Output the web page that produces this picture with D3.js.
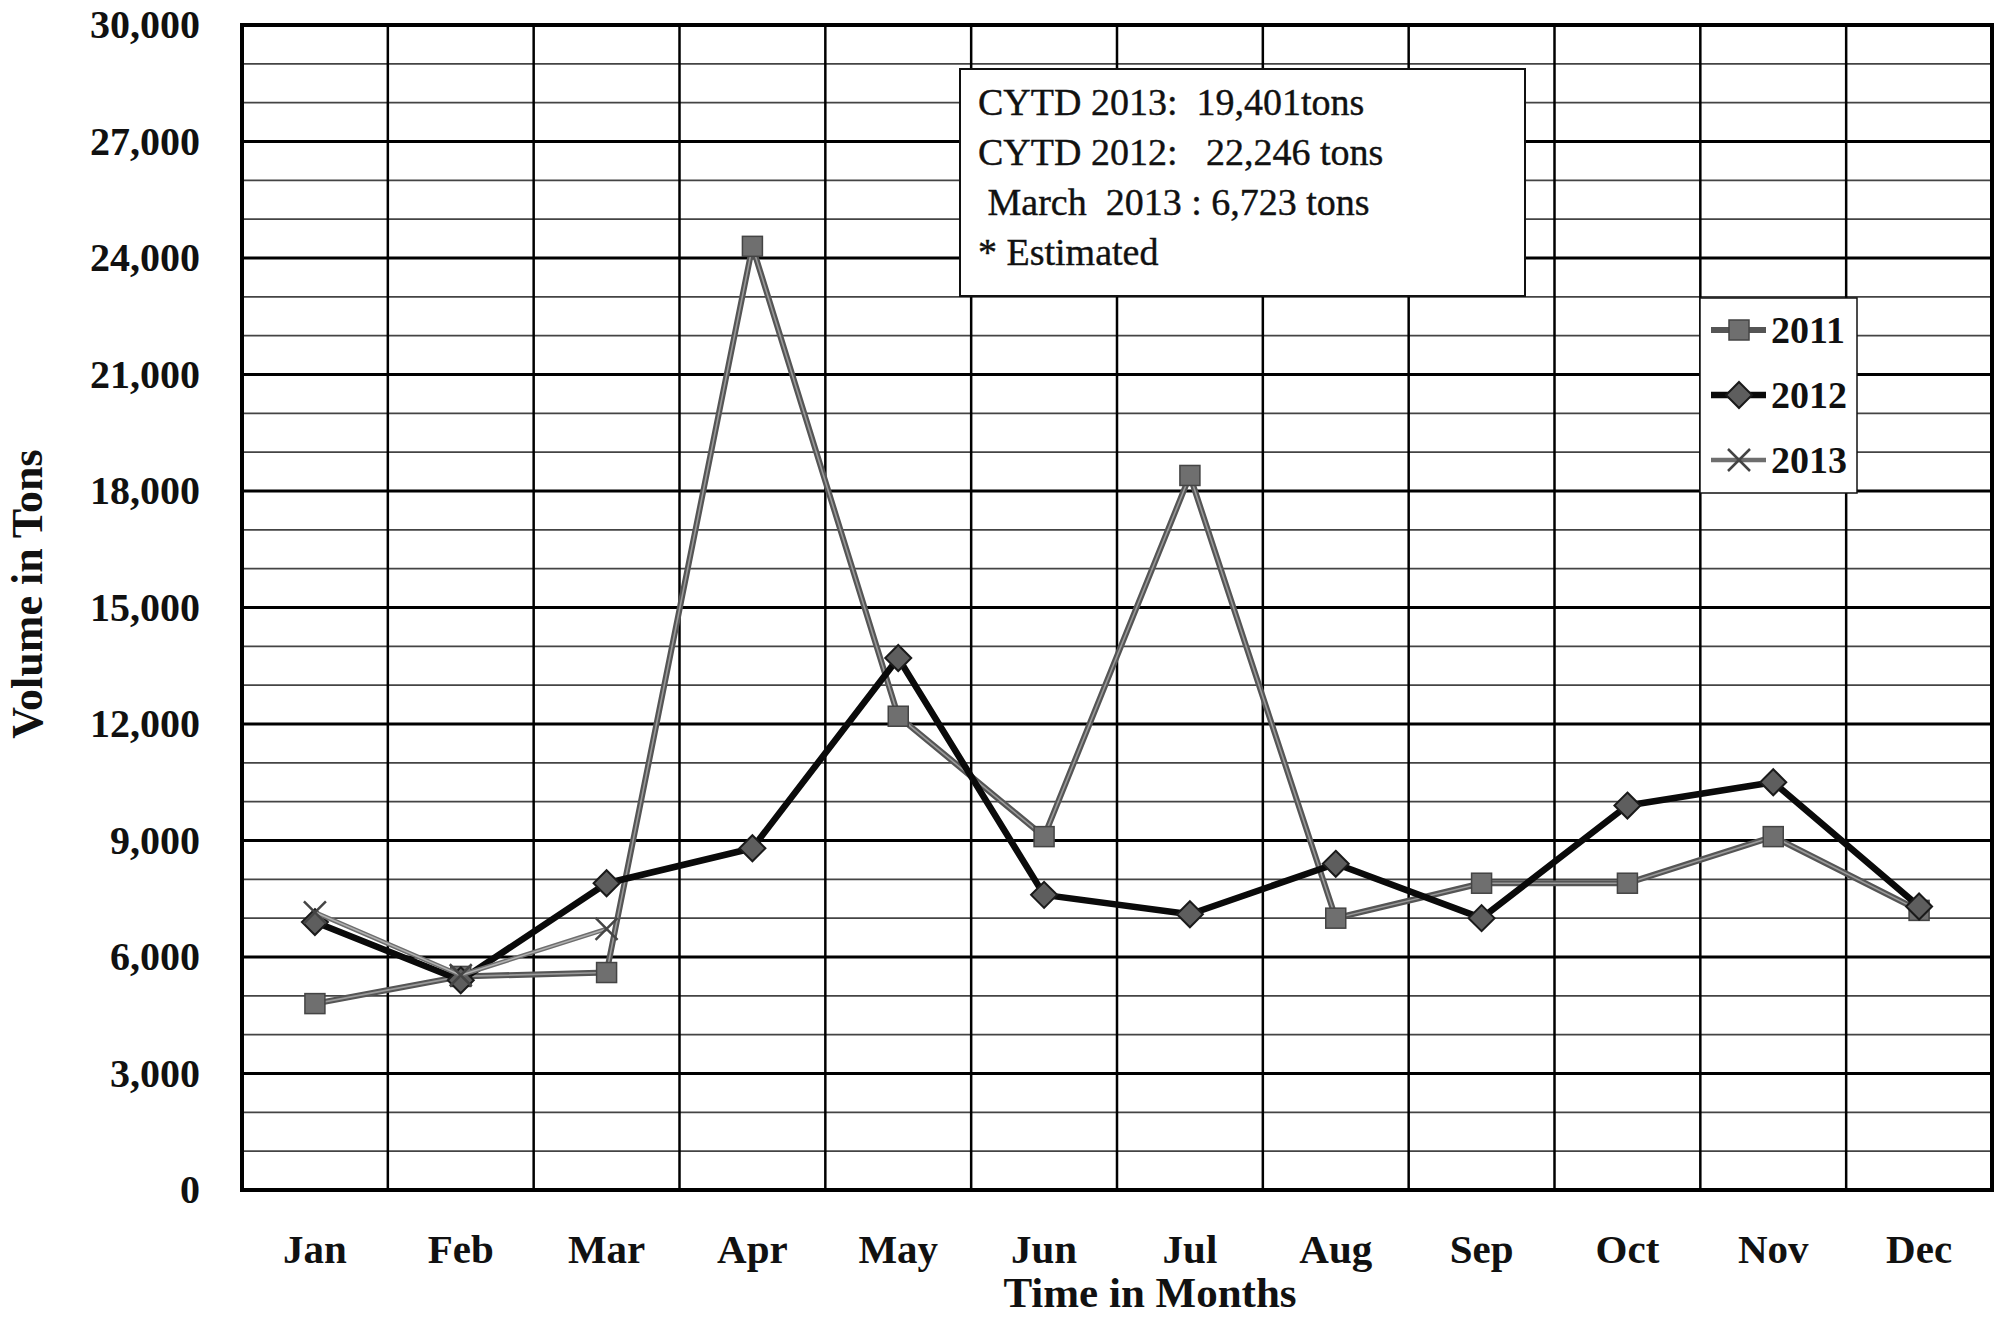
<!DOCTYPE html>
<html>
<head>
<meta charset="utf-8">
<script src="https://cdn.jsdelivr.net/npm/d3@7"></script>
<style>
  body { margin: 0; background: #fff; }
  svg { display: block; }
  text { font-family: "Liberation Serif", "DejaVu Serif", serif; fill: #111; }
</style>
</head>
<body>
<svg id="chart"></svg>
<script>
// months on the x axis
const months = ['Jan', 'Feb', 'Mar', 'Apr', 'May', 'Jun', 'Jul', 'Aug', 'Sep', 'Oct', 'Nov', 'Dec'];

// monthly volumes, tons
const vol2011 = [4800, 5500, 5600, 24300, 12200, 9100, 18400, 7000, 7900, 7900, 9100, 7200];
const vol2012 = [6900, 5400, 7900, 8800, 13700, 7600, 7100, 8400, 7000, 9900, 10500, 7300];
const vol2013 = [7150, 5530, 6723];

const yTicks = [0, 3000, 6000, 9000, 12000, 15000, 18000, 21000, 24000, 27000, 30000];
const yMinor = d3.range(1000, 30000, 1000).filter(v => v % 3000 !== 0);

const noteLines = ['CYTD 2013:  19,401tons', 'CYTD 2012:   22,246 tons', ' March  2013 : 6,723 tons', '* Estimated'];
const legendNames = ['2011', '2012', '2013'];

const W = 2001, H = 1320;
const margin = { left: 242, right: 9, top: 25, bottom: 130 };

const svg = d3.select('#chart').attr('width', W).attr('height', H);

const x = d3.scaleBand()
    .domain(months)
    .range([margin.left, W - margin.right]);

const y = d3.scaleLinear()
    .domain([0, 30000])
    .range([H - margin.bottom, margin.top]);

const cx = m => x(m) + x.bandwidth() / 2;

// minor gridlines
svg.append('g').selectAll('line')
    .data(yMinor)
    .join('line')
    .attr('x1', margin.left).attr('x2', W - margin.right)
    .attr('y1', d => y(d)).attr('y2', d => y(d))
    .attr('stroke', '#444').attr('stroke-width', 1.6);

// major gridlines
svg.append('g').selectAll('line')
    .data(yTicks)
    .join('line')
    .attr('x1', margin.left).attr('x2', W - margin.right)
    .attr('y1', d => y(d)).attr('y2', d => y(d))
    .attr('stroke', '#000').attr('stroke-width', 3);

// vertical month dividers
svg.append('g').selectAll('line')
    .data(months.slice(1))
    .join('line')
    .attr('x1', d => x(d)).attr('x2', d => x(d))
    .attr('y1', y(30000)).attr('y2', y(0))
    .attr('stroke', '#000').attr('stroke-width', 2.5);

// plot frame
svg.append('rect')
    .attr('x', margin.left).attr('y', margin.top)
    .attr('width', W - margin.left - margin.right)
    .attr('height', H - margin.top - margin.bottom)
    .attr('fill', 'none').attr('stroke', '#000').attr('stroke-width', 4);

// y axis labels
const yAxis = d3.axisLeft(y)
    .tickValues(yTicks)
    .tickFormat(d3.format(','))
    .tickSize(0)
    .tickPadding(42);

svg.append('g')
    .attr('transform', `translate(${margin.left},0)`)
    .call(yAxis)
    .call(g => g.select('.domain').remove())
    .call(g => g.selectAll('text')
        .attr('font-size', 40).attr('font-weight', 'bold')
        .style('font-family', '"Liberation Serif", serif').attr('fill', '#111'));

// x axis labels
const xAxis = d3.axisBottom(x).tickSize(0).tickPadding(44);

svg.append('g')
    .attr('transform', `translate(0,${y(0)})`)
    .call(xAxis)
    .call(g => g.select('.domain').remove())
    .call(g => g.selectAll('text')
        .attr('font-size', 41).attr('font-weight', 'bold')
        .style('font-family', '"Liberation Serif", serif').attr('fill', '#111'));

// axis titles
svg.append('text')
    .attr('x', 1150).attr('y', 1307)
    .attr('text-anchor', 'middle')
    .attr('font-size', 43).attr('font-weight', 'bold')
    .text('Time in Months');

svg.append('text')
    .attr('transform', 'translate(42,594) rotate(-90)')
    .attr('text-anchor', 'middle')
    .attr('font-size', 44).attr('font-weight', 'bold')
    .text('Volume in Tons');

// series
const series = [
    { name: '2011', values: vol2011, color: '#555', core: '#9a9a9a', width: 6, marker: 'square' },
    { name: '2012', values: vol2012, color: '#0a0a0a', core: null, width: 6.5, marker: 'diamond' },
    { name: '2013', values: vol2013, color: '#6e6e6e', core: '#b0b0b0', width: 4.5, marker: 'cross' }
];

const line = d3.line()
    .x((d, i) => cx(months[i]))
    .y(d => y(d));

function drawMarker(g, type, px, py) {
    if (type === 'square') {
        g.append('rect')
            .attr('x', px - 10).attr('y', py - 10)
            .attr('width', 20).attr('height', 20)
            .attr('fill', '#6f6f6f').attr('stroke', '#444').attr('stroke-width', 1.5);
    } else if (type === 'diamond') {
        g.append('path')
            .attr('d', `M${px},${py - 13}L${px + 13},${py}L${px},${py + 13}L${px - 13},${py}Z`)
            .attr('fill', '#5e5e5e').attr('stroke', '#1a1a1a').attr('stroke-width', 2);
    } else {
        g.append('path')
            .attr('d', `M${px - 11},${py - 11}L${px + 11},${py + 11}M${px + 11},${py - 11}L${px - 11},${py + 11}`)
            .attr('stroke', '#444').attr('stroke-width', 2.5).attr('fill', 'none');
    }
}

series.forEach(s => {
    const g = svg.append('g');
    g.append('path')
        .datum(s.values)
        .attr('d', line)
        .attr('fill', 'none')
        .attr('stroke', s.color)
        .attr('stroke-width', s.width)
        .attr('stroke-linejoin', 'round');
    if (s.core) {
        // lighter core, like the scanned double stroke
        g.append('path')
            .datum(s.values)
            .attr('d', line)
            .attr('fill', 'none')
            .attr('stroke', s.core)
            .attr('stroke-width', 1.6);
    }
    s.values.forEach((v, i) => drawMarker(g, s.marker, cx(months[i]), y(v)));
});

// note box
const note = svg.append('g');
note.append('rect')
    .attr('x', 960).attr('y', 69).attr('width', 565).attr('height', 227)
    .attr('fill', '#fff').attr('stroke', '#111').attr('stroke-width', 2);
note.selectAll('text')
    .data(noteLines)
    .join('text')
    .attr('x', 978)
    .attr('y', (d, i) => 115 + i * 50)
    .attr('font-size', 38)
    .attr('stroke', '#111').attr('stroke-width', 0.4)
    .style('white-space', 'pre')
    .attr('xml:space', 'preserve')
    .text(d => d);

// legend
const legend = svg.append('g');
legend.append('rect')
    .attr('x', 1700).attr('y', 298).attr('width', 157).attr('height', 195)
    .attr('fill', '#fff').attr('stroke', '#111').attr('stroke-width', 1.5);

series.forEach((s, i) => {
    const ly = 330 + i * 65;
    const g = legend.append('g');
    g.append('line')
        .attr('x1', 1711).attr('x2', 1766)
        .attr('y1', ly).attr('y2', ly)
        .attr('stroke', s.color).attr('stroke-width', s.width);
    drawMarker(g, s.marker, 1739, ly);
    g.append('text')
        .attr('x', 1771).attr('y', ly)
        .attr('dy', '0.35em')
        .attr('font-size', 38).attr('font-weight', 'bold')
        .text(legendNames[i]);
});
</script>
</body>
</html>
